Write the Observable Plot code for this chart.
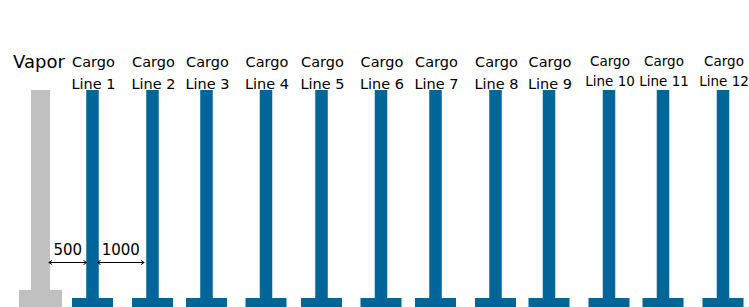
<!DOCTYPE html>
<html><head><meta charset="utf-8">
<script src="https://cdn.jsdelivr.net/npm/d3@7"></script>
<script src="https://cdn.jsdelivr.net/npm/@observablehq/plot@0.6"></script>
<style>html,body{margin:0;padding:0;background:#fff} svg{display:block}</style>
</head><body><div id="chart"></div>
<script>
// Line names (label text), horizontal positions of each line's centre, and line type
const lineNames = ["Vapor", "Cargo\nLine 1", "Cargo\nLine 2", "Cargo\nLine 3", "Cargo\nLine 4",
  "Cargo\nLine 5", "Cargo\nLine 6", "Cargo\nLine 7", "Cargo\nLine 8", "Cargo\nLine 9",
  "Cargo\nLine 10", "Cargo\nLine 11", "Cargo\nLine 12"];
const lineCenters = [40.5, 92.5, 152.5, 206.5, 266, 321.5, 381, 435.5, 495.5, 549, 609, 663, 723];
const lineTypes = ["vapor", "cargo", "cargo", "cargo", "cargo", "cargo", "cargo", "cargo",
  "cargo", "cargo", "cargo", "cargo", "cargo"];

// Spacing dimensions
const spacingLabels = ["500", "1000"];
const spacingStart = [48.5, 97];
const spacingEnd = [86, 143.5];

const lines = lineNames.map((name, i) => ({name, x: lineCenters[i], type: lineTypes[i], i}));
const dims = spacingLabels.map((label, i) => ({label, x1: spacingStart[i], x2: spacingEnd[i]}));

const BLUE = "#006699", GRAY = "#c0c0c0";
const isVapor = d => d.type === "vapor";
const stemW = d => isVapor(d) ? 19 : 12.5;
const baseW = d => isVapor(d) ? 43 : 41;
const TOP = 90, BOTTOM = 307;
const baseTop = d => isVapor(d) ? 290 : 298;
const mid = d => (d.x1 + d.x2) / 2;

const chart = Plot.plot({
  width: 749, height: 307,
  margin: 0,
  x: {domain: [0, 749], range: [0, 749], axis: null},
  y: {domain: [0, 307], range: [0, 307], axis: null},
  style: {fontFamily: "DejaVu Sans", background: "#fff"},
  marks: [
    // stems
    Plot.rect(lines, {x1: d => d.x - stemW(d) / 2, x2: d => d.x + stemW(d) / 2,
      y1: TOP, y2: d => baseTop(d), fill: d => isVapor(d) ? GRAY : BLUE}),
    // bases
    Plot.rect(lines, {x1: d => d.x - baseW(d) / 2, x2: d => d.x + baseW(d) / 2,
      y1: d => baseTop(d), y2: BOTTOM, fill: d => isVapor(d) ? GRAY : BLUE}),
    // labels
    Plot.text(lines.filter(d => isVapor(d)), {x: d => d.x - 2, y: 67, text: "name",
      fontSize: 18, lineAnchor: "bottom", fill: "#000"}),
    Plot.text(lines.filter(d => !isVapor(d) && d.i <= 9), {x: d => d.x + 0.5, y: 88.3, text: "name",
      fontSize: 14.5, lineHeight: 1.49, lineAnchor: "bottom", fill: "#000"}),
    Plot.text(lines.filter(d => d.i > 9), {x: d => d.x + 0.5, y: 85, text: "name",
      fontSize: 13.5, lineHeight: 1.48, lineAnchor: "bottom", fill: "#000"}),
    // dimension arrows (double-headed: two arrows from the midpoint)
    Plot.arrow(dims, {x1: mid, x2: "x1", y1: 262, y2: 262, stroke: "#000", strokeWidth: 1,
      headLength: 5, headAngle: 70}),
    Plot.arrow(dims, {x1: mid, x2: "x2", y1: 262, y2: 262, stroke: "#000", strokeWidth: 1,
      headLength: 5, headAngle: 70}),
    Plot.text(dims, {x: d => mid(d), y: 254, text: "label", fontSize: 15,
      lineAnchor: "bottom", fill: "#000"})
  ]
});
document.getElementById("chart").append(chart);
</script>
</body></html>
